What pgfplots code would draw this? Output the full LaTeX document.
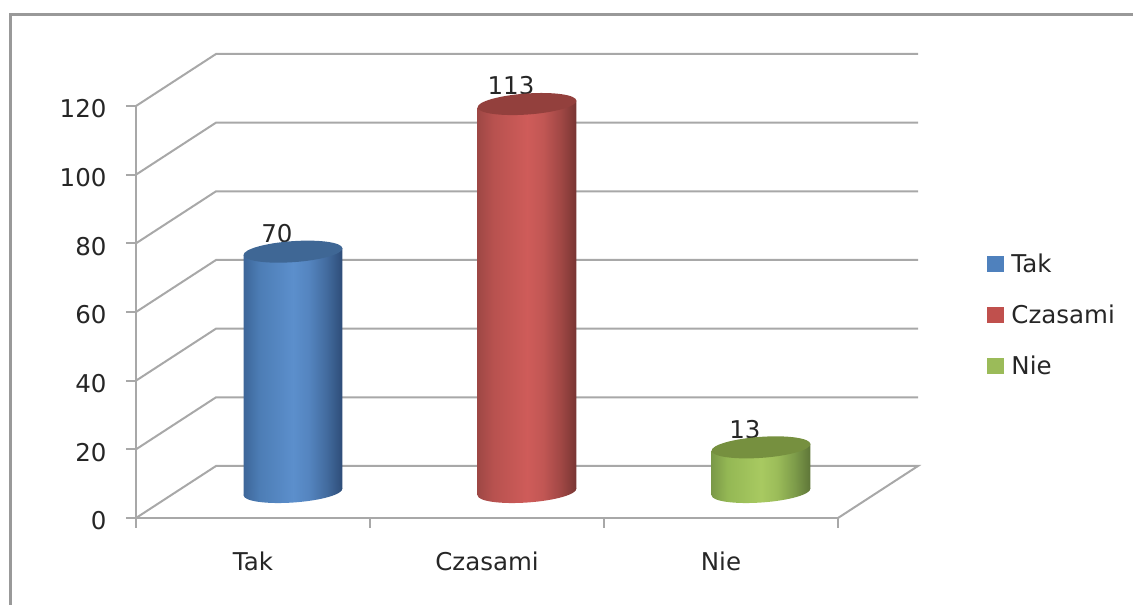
\documentclass[border=0pt]{standalone}
\usepackage{fontspec}
\setmainfont{DejaVu Sans}
\usepackage{pgfplots}
\pgfplotsset{compat=1.18}
\definecolor{gridc}{HTML}{A8A8A8}
\definecolor{framec}{HTML}{999999}
\definecolor{txt}{HTML}{262626}
\definecolor{legB}{HTML}{4F81BD}
\definecolor{legR}{HTML}{C0504D}
\definecolor{legG}{HTML}{9BBB59}
\definecolor{topB}{HTML}{3F6795}
\definecolor{topR}{HTML}{93403D}
\definecolor{topG}{HTML}{76903F}
\definecolor{bA}{rgb}{0.24,0.40,0.60}\definecolor{bB}{rgb}{0.30,0.49,0.71}\definecolor{bC}{rgb}{0.36,0.56,0.80}\definecolor{bD}{rgb}{0.33,0.52,0.75}\definecolor{bE}{rgb}{0.26,0.42,0.62}\definecolor{bF}{rgb}{0.18,0.30,0.47}
\definecolor{rA}{rgb}{0.62,0.28,0.27}\definecolor{rB}{rgb}{0.72,0.32,0.31}\definecolor{rC}{rgb}{0.81,0.36,0.35}\definecolor{rD}{rgb}{0.76,0.34,0.33}\definecolor{rE}{rgb}{0.63,0.28,0.27}\definecolor{rF}{rgb}{0.47,0.21,0.20}
\definecolor{gA}{rgb}{0.48,0.60,0.28}\definecolor{gB}{rgb}{0.58,0.72,0.33}\definecolor{gC}{rgb}{0.66,0.79,0.38}\definecolor{gD}{rgb}{0.61,0.74,0.35}\definecolor{gE}{rgb}{0.49,0.61,0.29}\definecolor{gF}{rgb}{0.37,0.46,0.22}
\pgfdeclarehorizontalshading{cylB}{100bp}{color(0bp)=(bA); color(25bp)=(bA); color(33bp)=(bB); color(50bp)=(bC); color(58bp)=(bD); color(67bp)=(bE); color(75bp)=(bF); color(100bp)=(bF)}
\pgfdeclarehorizontalshading{cylR}{100bp}{color(0bp)=(rA); color(25bp)=(rA); color(33bp)=(rB); color(50bp)=(rC); color(58bp)=(rD); color(67bp)=(rE); color(75bp)=(rF); color(100bp)=(rF)}
\pgfdeclarehorizontalshading{cylG}{100bp}{color(0bp)=(gA); color(25bp)=(gA); color(33bp)=(gB); color(50bp)=(gC); color(58bp)=(gD); color(67bp)=(gE); color(75bp)=(gF); color(100bp)=(gF)}
\newcommand{\cylpath}{\pgfpathellipse{\pgfpointorigin}{\pgfpoint{49.4pt}{3.4pt}}{\pgfpoint{-0.5pt}{10.5pt}}}
\pgfdeclareplotmark{topell}{\cylpath\pgfusepath{fill}}
\pgfdeclareplotmark{baseB}{\cylpath\pgfshadepath{cylB}{0}\pgfusepath{discard}}
\pgfdeclareplotmark{baseR}{\cylpath\pgfshadepath{cylR}{0}\pgfusepath{discard}}
\pgfdeclareplotmark{baseG}{\cylpath\pgfshadepath{cylG}{0}\pgfusepath{discard}}
\begin{document}
\begin{tikzpicture}[x=1pt,y=1pt]
\path[use as bounding box] (0,0) rectangle (1133,605);
\draw[framec,line width=3pt] (10,-2) -- (10,590) -- (1136,590);
\begin{axis}[
  at={(136pt,87pt)},anchor=south west,
  scale only axis,width=702pt,height=412pt,
  xmin=0,xmax=3,ymin=0,ymax=120,
  clip=false,
  axis x line*=bottom,axis y line*=left,
  axis line style={gridc,line width=2pt,-},
  xtick={0.5,1.5,2.5},xticklabels={Tak,Czasami,Nie},
  major x tick style={draw=none},
  minor xtick={0,1,2,3},
  minor tick length=10pt,
  minor x tick style={draw=gridc,line width=2pt},
  ytick={0,20,40,60,80,100,120},
  major tick length=10pt,
  major y tick style={draw=gridc,line width=2pt},
  tick align=outside,
  ticklabel style={font=\fontsize{24.5pt}{28pt}\selectfont,text=txt},
  /pgf/number format/assume math mode=true,
  x tick label style={yshift=-20pt},
  y tick label style={xshift=-16pt,yshift=-3pt},
  legend style={at={(1.212,0.493)},anchor=west,draw=none,fill=none,inner sep=0pt,
    font=\fontsize{24.5pt}{28pt}\selectfont,text=txt,row sep=31pt,
    nodes={inner sep=0pt,anchor=west},legend cell align=left},
]
\addlegendimage{legend image code/.code={\fill[legB] (0pt,-7.5pt) rectangle (16pt,7.5pt);}}
\addlegendentry{\hspace{8pt}Tak}
\addlegendimage{legend image code/.code={\fill[legR] (0pt,-7.5pt) rectangle (16pt,7.5pt);}}
\addlegendentry{\hspace{8pt}Czasami}
\addlegendimage{legend image code/.code={\fill[legG] (0pt,-7.5pt) rectangle (16pt,7.5pt);}}
\addlegendentry{\hspace{8pt}Nie}
% walls and floor
\addplot[gridc,line width=2pt,forget plot] coordinates {(0,0) (0.3419,15.15) (3.3419,15.15) (3,0)};
\addplot[gridc,line width=2pt,forget plot] coordinates {(0,20) (0.3419,35.15) (3.3419,35.15)};
\addplot[gridc,line width=2pt,forget plot] coordinates {(0,40) (0.3419,55.15) (3.3419,55.15)};
\addplot[gridc,line width=2pt,forget plot] coordinates {(0,60) (0.3419,75.15) (3.3419,75.15)};
\addplot[gridc,line width=2pt,forget plot] coordinates {(0,80) (0.3419,95.15) (3.3419,95.15)};
\addplot[gridc,line width=2pt,forget plot] coordinates {(0,100) (0.3419,115.15) (3.3419,115.15)};
\addplot[gridc,line width=2pt,forget plot] coordinates {(0,120) (0.3419,135.15) (3.3419,135.15)};
% data labels
\addplot[only marks,mark=none,forget plot,
  nodes near coords,
  every node near coord/.style={anchor=center,xshift=24pt,yshift=44pt,text=txt,font=\fontsize{24.5pt}{28pt}\selectfont}]
  coordinates {(0.5,70) (1.5,113) (2.5,13)};
% Tak
\addplot[only marks,forget plot,mark=baseB,xshift=40pt,yshift=26pt] coordinates {(0.5,0)};
\addplot[ybar,bar width=98.8pt,bar shift=0pt,draw=none,shading=cylB,forget plot,xshift=40pt,yshift=17.81pt,yslant=0.07] coordinates {(0.5,70)};
\addplot[only marks,forget plot,mark=topell,mark options={draw=none,fill=topB},xshift=40pt,yshift=26pt] coordinates {(0.5,70)};
% Czasami
\addplot[only marks,forget plot,mark=baseR,xshift=40pt,yshift=26pt] coordinates {(1.5,0)};
\addplot[ybar,bar width=98.8pt,bar shift=0pt,draw=none,shading=cylR,forget plot,xshift=40pt,yshift=1.43pt,yslant=0.07] coordinates {(1.5,113)};
\addplot[only marks,forget plot,mark=topell,mark options={draw=none,fill=topR},xshift=40pt,yshift=26pt] coordinates {(1.5,113)};
% Nie
\addplot[only marks,forget plot,mark=baseG,xshift=40pt,yshift=26pt] coordinates {(2.5,0)};
\addplot[ybar,bar width=98.8pt,bar shift=0pt,draw=none,shading=cylG,forget plot,xshift=40pt,yshift=-14.95pt,yslant=0.07] coordinates {(2.5,13)};
\addplot[only marks,forget plot,mark=topell,mark options={draw=none,fill=topG},xshift=40pt,yshift=26pt] coordinates {(2.5,13)};
\end{axis}
\end{tikzpicture}
\end{document}
